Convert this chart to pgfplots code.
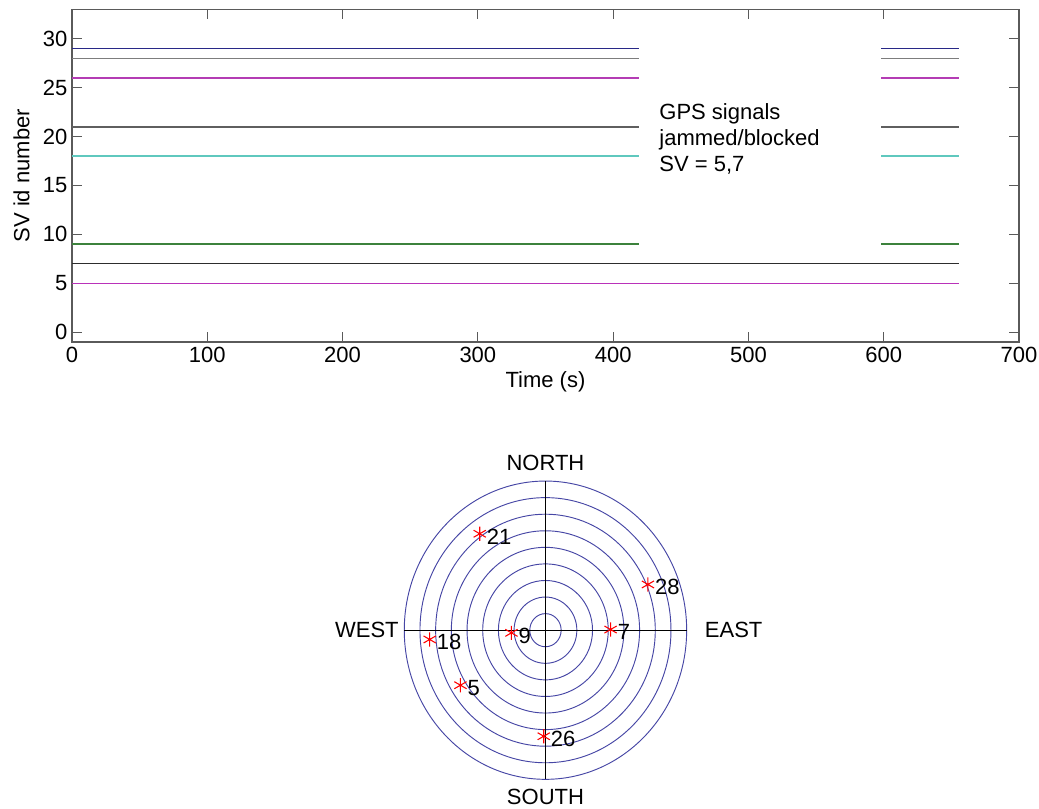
\documentclass[border=0pt]{standalone}
\usepackage{fontspec}
\setmainfont{Liberation Sans}
\usepackage{pgfplots}
\usepackage{pgfplotstable}
\pgfplotsset{compat=1.18}

\definecolor{c29}{RGB}{40,40,135}
\definecolor{c28}{RGB}{125,125,125}
\definecolor{c26}{RGB}{180,60,180}
\definecolor{c21}{RGB}{95,95,95}
\definecolor{c18}{RGB}{95,200,190}
\definecolor{c9}{RGB}{60,130,60}
\definecolor{c7}{RGB}{45,45,45}
\definecolor{c5}{RGB}{185,50,185}
\definecolor{ringcol}{RGB}{70,70,165}
\definecolor{framecol}{RGB}{90,90,90}

\newcommand\fsz{\fontsize{16.5}{19.5}\selectfont}

% sky plot: satellite positions (east, north), outer ring = horizon (90)
\pgfplotstableread{
x      y      sv
-41.9  58.2   21
65.3   27.6   28
-21.7  -1.6   9
41.5   0.4    7
-73.8  -5.6   18
-54.2  -33.2  5
-1.1   -64.0  26
}\skydata

\pgfplotsset{
  sv/.style={line width=1.1pt, forget plot},
}

\begin{document}
\begin{tikzpicture}
% 1 px of the reference = 0.75pt
\useasboundingbox[fill=white] (0,0) rectangle (779.25pt,606.75pt);

\begin{axis}[
  at={(54pt,350.25pt)}, anchor=south west,
  scale only axis, width=710.25pt, height=249.4pt,
  xmin=0, xmax=700, ymin=-1, ymax=33,
  xtick={0,100,...,700}, ytick={0,5,...,30},
  tick align=inside, major tick length=7.5pt,
  axis line style={framecol, line width=0.8pt},
  every tick/.style={framecol, line width=0.8pt},
  /pgf/number format/assume math mode=true,
  tick label style={font=\fsz},
  label style={font=\fsz},
  xlabel={Time (s)}, ylabel={SV id number},
  ylabel style={yshift=3pt},
  clip=false,
]
\addplot[sv, c29] coordinates {(0,29) (419,29)};
\addplot[sv, c29] coordinates {(598,29) (656,29)};
\addplot[sv, c28] coordinates {(0,28) (419,28)};
\addplot[sv, c28] coordinates {(598,28) (656,28)};
\addplot[sv, c26] coordinates {(0,26) (419,26)};
\addplot[sv, c26] coordinates {(598,26) (656,26)};
\addplot[sv, c21] coordinates {(0,21) (419,21)};
\addplot[sv, c21] coordinates {(598,21) (656,21)};
\addplot[sv, c18] coordinates {(0,18) (419,18)};
\addplot[sv, c18] coordinates {(598,18) (656,18)};
\addplot[sv, c9] coordinates {(0,9) (419,9)};
\addplot[sv, c9] coordinates {(598,9) (656,9)};
\addplot[sv, c7] coordinates {(0,7) (656,7)};
\addplot[sv, c5] coordinates {(0,5) (656,5)};
\node[anchor=west, align=left, font=\fsz, inner sep=0pt] at (axis cs:434,19.8)
  {GPS signals\\jammed/blocked\\SV = 5,7};
\end{axis}

\begin{axis}[
  at={(409.1pt,134.1pt)}, anchor=center,
  scale only axis, width=211.8pt, height=223.7pt,
  xmin=-90, xmax=90, ymin=-90, ymax=90,
  hide axis, clip=false,
]
\pgfplotsinvokeforeach{10,20,...,90}{
  \draw[ringcol, line width=0.7pt] (axis cs:0,0) ellipse [x radius=#1, y radius=#1];
}
\draw[black, line width=0.7pt] (axis cs:-90,0) -- (axis cs:90,0);
\draw[black, line width=0.7pt] (axis cs:0,-90) -- (axis cs:0,90);
\addplot[only marks, mark=asterisk, mark size=5.3pt, red, thick,
  point meta=explicit symbolic,
  nodes near coords,
  nodes near coords style={black, font=\fsz, anchor=west, inner sep=0pt, xshift=5pt, yshift=-2pt},
] table[x=x, y=y, meta=sv] {\skydata};
\node[font=\fsz, anchor=base, inner sep=0pt] at ([yshift=8pt]axis cs:0,90) {NORTH};
\node[font=\fsz, anchor=north, inner sep=0pt] at ([yshift=-7pt]axis cs:0,-90) {SOUTH};
\node[font=\fsz, anchor=east, inner sep=0pt] at ([xshift=-4pt]axis cs:-90,0) {WEST};
\node[font=\fsz, anchor=west, inner sep=0pt] at ([xshift=13.5pt]axis cs:90,0) {EAST};
\end{axis}
\end{tikzpicture}
\end{document}
